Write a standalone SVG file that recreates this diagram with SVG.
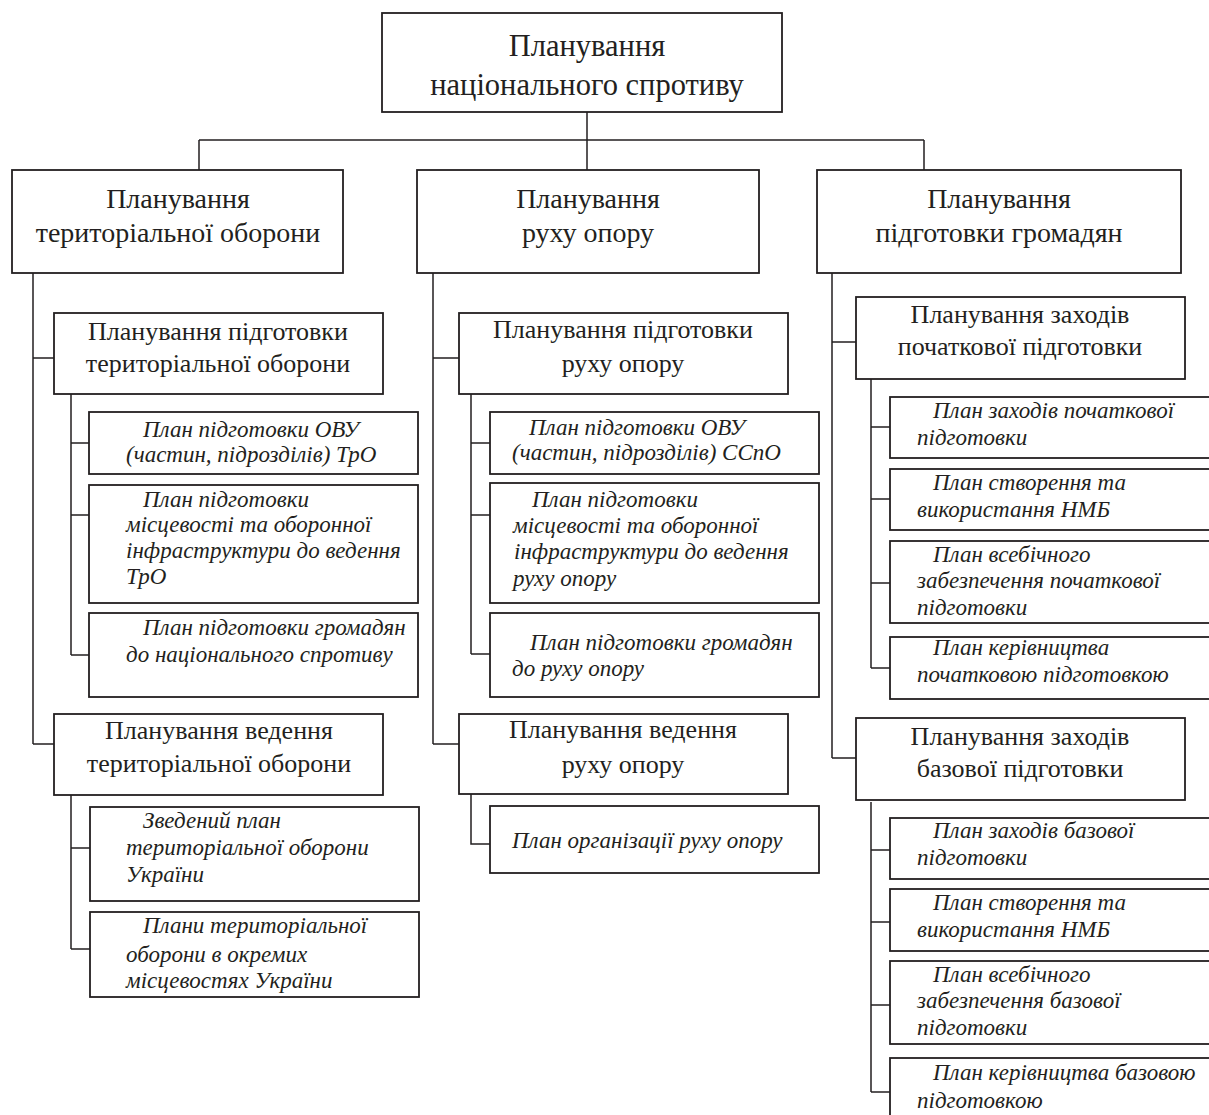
<svg xmlns="http://www.w3.org/2000/svg" width="1209" height="1115" viewBox="0 0 1209 1115">
<style>
rect{fill:#fff;stroke:#231f20;stroke-width:1.8}
.c{fill:none;stroke:#231f20;stroke-width:1.5}
text{font-family:"Liberation Serif","Times New Roman",serif;fill:#231f20}
.t0{font-size:30.5px;text-anchor:middle}
.t1{font-size:28px;text-anchor:middle}
.t2{font-size:26px;text-anchor:middle}
.t3{font-size:23px;font-style:italic}
</style>
<rect width="1209" height="1115" style="fill:#fff;stroke:none"/>
<g id="connectors">
<path class="c" d="M587,112V140M199,140H924M199,140V170M587,140V170M924,140V170"/>
<path class="c" d="M33,273V744M33,358H54M33,744H54"/>
<path class="c" d="M71,394V655M71,443H89M71,515H89M71,655H89"/>
<path class="c" d="M71,795V949M71,848H90M71,949H90"/>
<path class="c" d="M433,273V744M433,358H459M433,744H459"/>
<path class="c" d="M471,394V654M471,443H490M471,515H490M471,654H490"/>
<path class="c" d="M471,794V844H490"/>
<path class="c" d="M832,273V758M832,342H856M832,758H856"/>
<path class="c" d="M871,379V668M871,427H890M871,499H890M871,583H890M871,668H890"/>
<path class="c" d="M871,802V1092M871,850H890M871,922H890M871,1005H890M871,1092H890"/>
</g>
<g id="n-root"><rect x="382" y="13" width="400" height="99"/><text class="t0" x="587" y="56">Планування</text><text class="t0" x="587" y="95">національного спротиву</text></g>
<g id="n-tro"><rect x="12" y="170" width="331" height="103"/><text class="t1" x="178" y="208">Планування</text><text class="t1" x="178" y="242">територіальної оборони</text></g>
<g id="n-rukh"><rect x="417" y="170" width="342" height="103"/><text class="t1" x="588" y="208">Планування</text><text class="t1" x="588" y="242">руху опору</text></g>
<g id="n-hrom"><rect x="817" y="170" width="364" height="103"/><text class="t1" x="999" y="208">Планування</text><text class="t1" x="999" y="242">підготовки громадян</text></g>

<g id="n-tro-pidg"><rect x="54" y="313" width="329" height="81"/><text class="t2" x="218" y="340">Планування підготовки</text><text class="t2" x="218" y="372">територіальної оборони</text></g>
<g id="n-tro-l1"><rect x="89" y="412" width="329" height="62"/><text class="t3" x="143" y="437">План підготовки ОВУ</text><text class="t3" x="126" y="462">(частин, підрозділів) ТрО</text></g>
<g id="n-tro-l2"><rect x="89" y="485" width="329" height="118"/><text class="t3" x="143" y="507">План підготовки</text><text class="t3" x="126" y="532">місцевості та оборонної</text><text class="t3" x="126" y="558">інфраструктури до ведення</text><text class="t3" x="126" y="584">ТрО</text></g>
<g id="n-tro-l3"><rect x="89" y="613" width="329" height="84"/><text class="t3" x="143" y="635">План підготовки громадян</text><text class="t3" x="126" y="662">до національного спротиву</text></g>
<g id="n-tro-ved"><rect x="54" y="714" width="329" height="81"/><text class="t2" x="219" y="739">Планування ведення</text><text class="t2" x="219" y="772">територіальної оборони</text></g>
<g id="n-tro-l4"><rect x="90" y="807" width="329" height="94"/><text class="t3" x="143" y="828">Зведений план</text><text class="t3" x="126" y="855">територіальної оборони</text><text class="t3" x="126" y="882">України</text></g>
<g id="n-tro-l5"><rect x="90" y="912" width="329" height="85"/><text class="t3" x="143" y="933">Плани територіальної</text><text class="t3" x="126" y="962">оборони в окремих</text><text class="t3" x="126" y="988">місцевостях України</text></g>

<g id="n-rukh-pidg"><rect x="459" y="313" width="329" height="81"/><text class="t2" x="623" y="338">Планування підготовки</text><text class="t2" x="623" y="372">руху опору</text></g>
<g id="n-rukh-l1"><rect x="490" y="412" width="329" height="62"/><text class="t3" x="529" y="435">План підготовки ОВУ</text><text class="t3" x="512" y="460">(частин, підрозділів) ССпО</text></g>
<g id="n-rukh-l2"><rect x="490" y="483" width="329" height="120"/><text class="t3" x="532" y="507">План підготовки</text><text class="t3" x="513" y="533">місцевості та оборонної</text><text class="t3" x="514" y="559">інфраструктури до ведення</text><text class="t3" x="513" y="586">руху опору</text></g>
<g id="n-rukh-l3"><rect x="490" y="613" width="329" height="84"/><text class="t3" x="530" y="650">План підготовки громадян</text><text class="t3" x="512" y="676">до руху опору</text></g>
<g id="n-rukh-ved"><rect x="459" y="714" width="329" height="80"/><text class="t2" x="623" y="738">Планування ведення</text><text class="t2" x="623" y="773">руху опору</text></g>
<g id="n-rukh-l4"><rect x="490" y="806" width="329" height="67"/><text class="t3" x="512" y="848">План організації руху опору</text></g>

<g id="n-hrom-poch"><rect x="856" y="297" width="329" height="82"/><text class="t2" x="1020" y="323">Планування заходів</text><text class="t2" x="1020" y="355">початкової підготовки</text></g>
<g id="n-hrom-l1"><rect x="890" y="397" width="330" height="61"/><text class="t3" x="933" y="418">План заходів початкової</text><text class="t3" x="917" y="445">підготовки</text></g>
<g id="n-hrom-l2"><rect x="890" y="469" width="330" height="61"/><text class="t3" x="933" y="490">План створення та</text><text class="t3" x="917" y="517">використання НМБ</text></g>
<g id="n-hrom-l3"><rect x="890" y="541" width="330" height="82"/><text class="t3" x="933" y="562">План всебічного</text><text class="t3" x="917" y="588">забезпечення початкової</text><text class="t3" x="917" y="615">підготовки</text></g>
<g id="n-hrom-l4"><rect x="890" y="637" width="330" height="62"/><text class="t3" x="933" y="655">План керівництва</text><text class="t3" x="917" y="682">початковою підготовкою</text></g>
<g id="n-hrom-baz"><rect x="856" y="718" width="329" height="82"/><text class="t2" x="1020" y="745">Планування заходів</text><text class="t2" x="1020" y="777">базової підготовки</text></g>
<g id="n-hrom-l5"><rect x="890" y="818" width="330" height="61"/><text class="t3" x="933" y="838">План заходів базової</text><text class="t3" x="917" y="865">підготовки</text></g>
<g id="n-hrom-l6"><rect x="890" y="889" width="330" height="62"/><text class="t3" x="933" y="910">План створення та</text><text class="t3" x="917" y="937">використання НМБ</text></g>
<g id="n-hrom-l7"><rect x="890" y="961" width="330" height="83"/><text class="t3" x="933" y="982">План всебічного</text><text class="t3" x="917" y="1008">забезпечення базової</text><text class="t3" x="917" y="1035">підготовки</text></g>
<g id="n-hrom-l8"><rect x="890" y="1058" width="330" height="70"/><text class="t3" x="933" y="1080">План керівництва базовою</text><text class="t3" x="917" y="1108">підготовкою</text></g>
</svg>
